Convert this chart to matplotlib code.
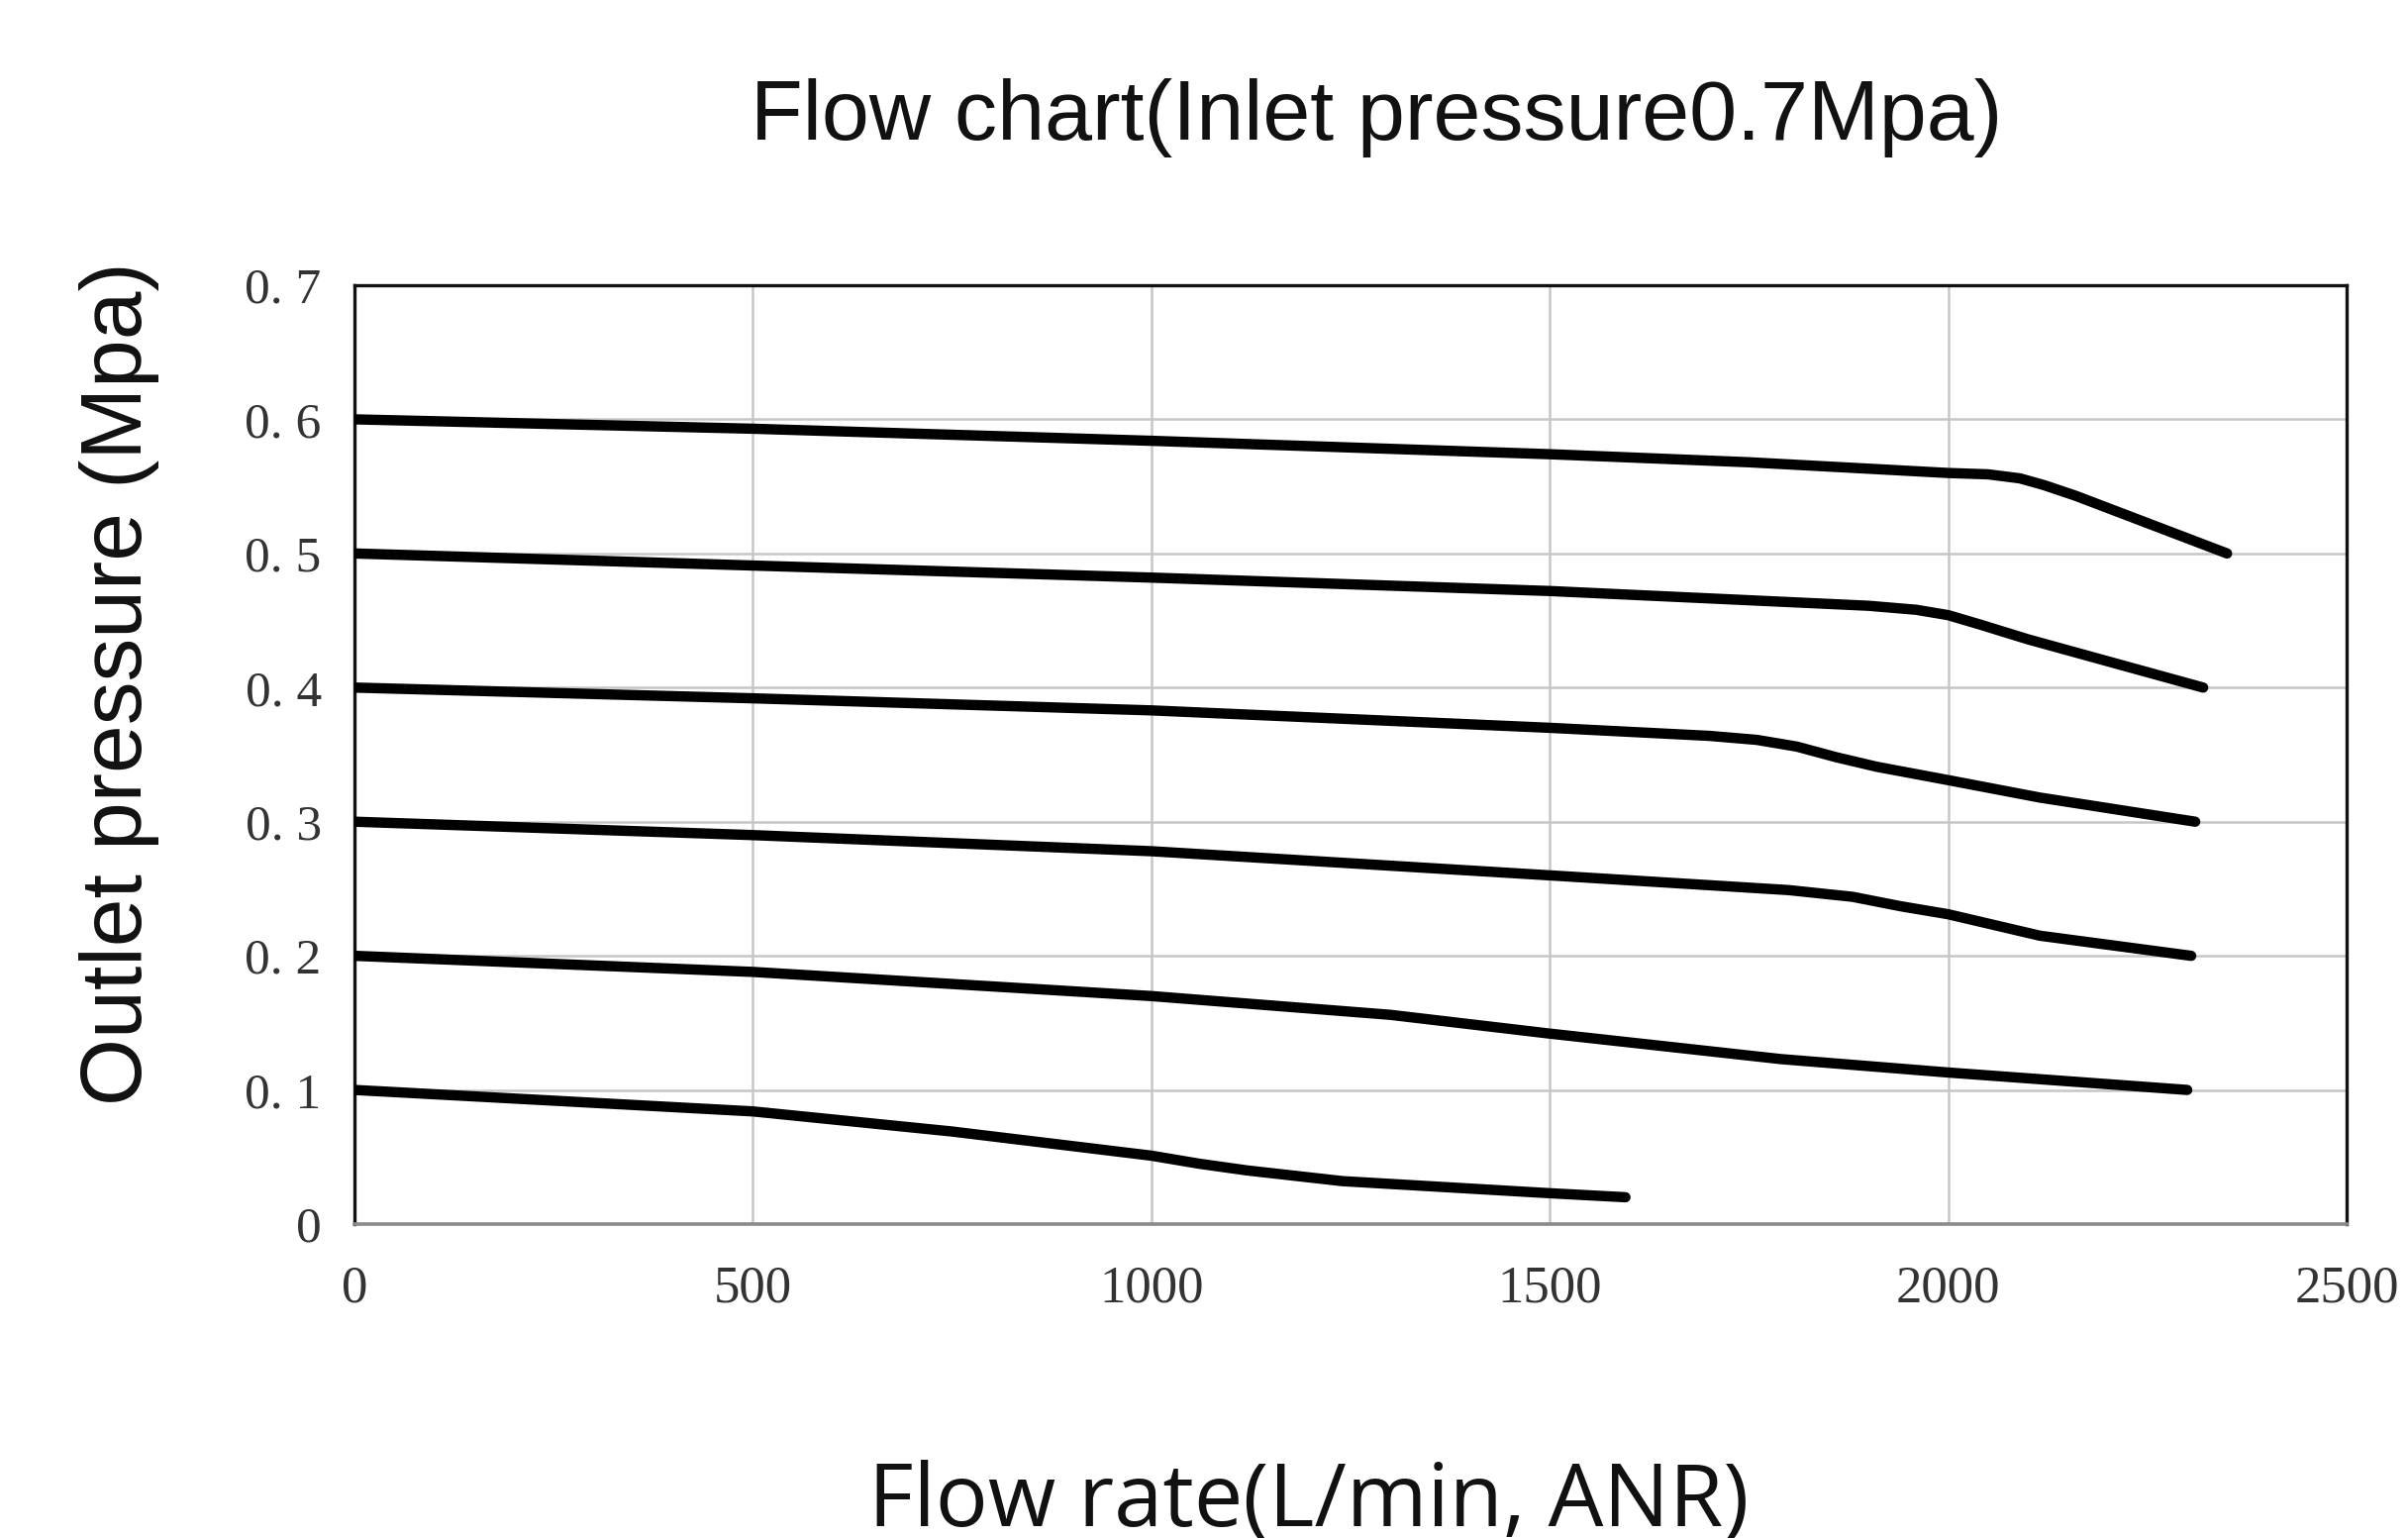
import matplotlib
matplotlib.use("Agg")
import matplotlib.pyplot as plt

# ---- data ----
x_ticks = [0, 500, 1000, 1500, 2000, 2500]
x_tick_labels = ["0", "500", "1000", "1500", "2000", "2500"]
y_ticks = [0, 0.1, 0.2, 0.3, 0.4, 0.5, 0.6, 0.7]
y_tick_labels = ["0", "0. 1", "0. 2", "0. 3", "0. 4", "0. 5", "0. 6", "0. 7"]

x06 = [0, 500, 1000, 1500, 1750, 2000, 2050, 2090, 2120, 2160, 2350]
y06 = [0.600, 0.593, 0.584, 0.574, 0.568, 0.560, 0.559, 0.556, 0.551, 0.543, 0.500]

x05 = [0, 500, 1000, 1500, 1900, 1960, 2000, 2040, 2100, 2320]
y05 = [0.500, 0.491, 0.482, 0.472, 0.461, 0.458, 0.454, 0.447, 0.436, 0.400]

x04 = [0, 500, 1000, 1500, 1700, 1760, 1810, 1860, 1910, 2000, 2115, 2310]
y04 = [0.400, 0.392, 0.383, 0.370, 0.364, 0.361, 0.356, 0.348, 0.341, 0.331, 0.318, 0.300]

x03 = [0, 500, 1000, 1500, 1800, 1880, 1940, 2000, 2115, 2305]
y03 = [0.300, 0.290, 0.278, 0.260, 0.249, 0.244, 0.237, 0.231, 0.215, 0.200]

x02 = [0, 500, 1000, 1300, 1500, 1790, 2000, 2300]
y02 = [0.200, 0.188, 0.170, 0.156, 0.142, 0.123, 0.113, 0.100]

x01 = [0, 500, 750, 1000, 1060, 1120, 1240, 1500, 1595]
y01 = [0.100, 0.084, 0.069, 0.051, 0.045, 0.040, 0.032, 0.023, 0.020]

curves = [(x06, y06), (x05, y05), (x04, y04), (x03, y03), (x02, y02), (x01, y01)]

title = "Flow chart(Inlet pressure0.7Mpa)"
xlabel = "Flow rate(L/min, ANR)"
ylabel = "Outlet pressure (Mpa)"

# ---- figure ----
W, H = 2432, 1553
fig = plt.figure(figsize=(W / 100, H / 100), dpi=100)
fig.patch.set_facecolor("white")

left, right, top, bottom = 358, 2370, 288, 1236
ax = fig.add_axes([left / W, 1 - bottom / H, (right - left) / W, (bottom - top) / H])

ax.set_xlim(0, 2500)
ax.set_ylim(0, 0.7)

grid_color = "#c6c6ca"
for gx in x_ticks[1:-1]:
    ax.axvline(gx, color=grid_color, lw=1.8, zorder=1)
for gy in y_ticks[1:-1]:
    ax.axhline(gy, color=grid_color, lw=1.8, zorder=1)

for xs, ys in curves:
    ax.plot(xs, ys, color="black", lw=7.5, solid_capstyle="round",
            solid_joinstyle="round", zorder=3)

for side in ["left", "top", "right"]:
    ax.spines[side].set_color("#111111")
    ax.spines[side].set_linewidth(2.4)
ax.spines["bottom"].set_color("#8a8a8e")
ax.spines["bottom"].set_linewidth(2.6)

ax.set_xticks(x_ticks)
ax.set_xticklabels(x_tick_labels, family="Liberation Serif", fontsize=38, color="#333333")
ax.set_yticks(y_ticks)
ax.set_yticklabels(y_tick_labels, family="Liberation Serif", fontsize=37, color="#333333")
ax.tick_params(axis="x", length=0, pad=30)
ax.tick_params(axis="y", length=0, pad=24)

fig.text(1390 / W, 1 - 119 / H, title, family="Liberation Sans", fontsize=62,
         ha="center", va="center", color="#111111")
fig.text(121 / W, 1 - 690 / H, ylabel, family="Liberation Sans", fontsize=63,
         rotation=90, ha="center", va="center", color="#111111")
fig.text(1322 / W, 1 - 1541 / H, xlabel, family="Open Sans", fontsize=63.5,
         ha="center", va="baseline", color="#111111")

fig.savefig("out.png", dpi=100, facecolor="white")
